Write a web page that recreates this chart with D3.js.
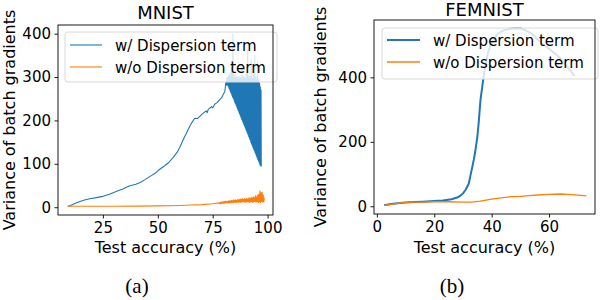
<!DOCTYPE html>
<html>
<head>
<meta charset="utf-8">
<script src="https://cdn.jsdelivr.net/npm/d3@7"></script>
<style>
  body { margin: 0; background: #fff; }
  svg { display: block; }
  text { font-family: "DejaVu Sans", sans-serif; fill: #000; }
</style>
</head>
<body>
<svg id="chart" width="600" height="300"></svg>
<script>
// ---------- DATA ----------
const seriesNames = ["w/ Dispersion term", "w/o Dispersion term"];

// MNIST, w/ Dispersion term
const mnistWithX = [9,10,12,14.5,17,19,22,25,28,31,34,37,40,42,44,46.5,49,51,53,55,57,59,60,62,64.5,65.5,66.8,68,69,70,71,72,72.5,73,73.6,74.5,75,76,77,78,79,80,80.5,
  81.00,81.16,81.32,81.48,81.64,81.80,81.96,82.12,82.28,82.44,82.60,82.76,82.92,83.08,83.24,83.40,83.56,83.72,83.88,84.04,
  84.20,84.36,84.52,84.68,84.84,85.00,85.16,85.32,85.48,85.64,85.80,85.96,86.12,86.28,86.44,86.60,86.76,86.92,87.08,87.24,
  87.40,87.56,87.72,87.88,88.04,88.20,88.36,88.52,88.68,88.84,89.00,89.16,89.32,89.48,89.64,89.80,89.96,90.12,90.28,90.44,
  90.60,90.76,90.92,91.08,91.24,91.40,91.56,91.72,91.88,92.04,92.20,92.36,92.52,92.68,92.84,93.00,93.16,93.32,93.48,93.64,
  93.80,93.96,94.12,94.28,94.44,94.60,94.76,94.92,95.08,95.24,95.40,95.56,95.72,95.88,96.04,96.20,96.36,96.52,96.68,96.84,97.00,97.10];
const mnistWithY = [2,3.5,8,13,17,19.5,22,25,30,36,42,49,53,57,63,71,79,88,95,103,115,128,138,160,186,195,205,204,209,214,218,222,218,226,228,232,229,238,241,247,252,262,266,
  288,282,295,281,300,282,297,278,305,274,302,270,310,266,298,262,320,258,300,254,
  400,251,305,247,296,242,305,239,299,235,302,231,296,227,300,223,294,219,302,215,
  297,211,300,207,295,203,330,199,298,195,302,191,294,187,300,183,296,179,310,175,
  298,171,362,167,300,163,295,159,302,155,296,150,340,146,298,142,293,138,305,134,
  297,130,350,126,295,122,300,118,290,114,335,110,288,106,295,102,285,98,277,95,270,94];

// MNIST, w/o Dispersion term
const mnistWithoutX = [9,20,30,40,50,60,65,70,75,78,
  78.25,78.5,78.75,79.0,79.25,79.5,79.75,80.0,80.25,80.5,80.75,81.0,81.25,81.5,81.75,82.0,82.25,82.5,82.75,83.0,
  83.25,83.5,83.75,84.0,84.25,84.5,84.75,85.0,85.25,85.5,85.75,86.0,86.25,86.5,86.75,87.0,87.25,87.5,87.75,88.0,
  88.25,88.5,88.75,89.0,89.25,89.5,89.75,90.0,90.25,90.5,90.75,91.0,91.25,91.5,91.75,92.0,92.25,92.5,92.75,93.0,
  93.25,93.5,93.75,94.0,94.25,94.5,94.75,95.0,95.25,95.5,95.75,96.0,96.25,96.5,96.75,97.0,97.25,97.5,97.75,98.0,98.25,98.5];
const mnistWithoutY = [2,2,2,2.5,3,4,5,6,8,10,
  8,11,8,12,9,12,9,13,9,13,10,14,10,13,10,14,10,15,10,14,
  11,16,10,15,11,17,11,16,11,17,11,16,12,18,11,17,12,19,11,18,
  12,20,12,18,12,20,11,19,12,21,12,19,12,22,11,20,12,23,12,21,
  11,24,12,22,13,26,12,24,12,28,11,30,12,38,11,33,13,35,12,28,12,22];

// FEMNIST, w/ Dispersion term
const femnistWithX = [2.5,5,8,10,13,16,20,23,26,28,29,30,31,32,32.6,33.2,33.8,34.4,35,35.5,36.1,36.7,37.2,38,38.8,39.6,41,42,44,46,48,50,52,54,57,60,63,66,68.9];
const femnistWithY = [3,7,10,12,13,14,16,18,22,27,32,40,52,70,95,120,146,177,215,262,330,370,404,445,480,500,520,535,545,550,552,552,545,535,509,488,467,437,404];

// FEMNIST, w/o Dispersion term
const femnistWithoutX = [2.5,5,9,12,16,20,25,30,33,36,40,44,47,50,53,56,60,64,68,71,73];
const femnistWithoutY = [3,6,11,13,13,14,14,13,13,16,22,27,30,31,33,35,37,38,36,34,32];

// tick values
const mnistXTicks = [25, 50, 75, 100];
const mnistYTicks = [0, 100, 200, 300, 400];
const femnistXTicks = [0, 20, 40, 60];
const femnistYTicks = [0, 200, 400];

const colors = ["#1f77b4", "#ff7f0e"];

// ---------- DRAW ----------
const svg = d3.select("#chart");

function panel(cfg) {
  const x = d3.scaleLinear().domain(cfg.xDomain).range([cfg.left, cfg.right]);
  const y = d3.scaleLinear().domain(cfg.yDomain).range([cfg.bottom, cfg.top]);
  const g = svg.append("g");

  const clipId = "clip" + cfg.id;
  svg.append("clipPath").attr("id", clipId).append("rect")
    .attr("x", cfg.left).attr("y", cfg.top)
    .attr("width", cfg.right - cfg.left).attr("height", cfg.bottom - cfg.top);

  const lines = g.append("g").attr("clip-path", `url(#${clipId})`);
  cfg.series.forEach((s, i) => {
    const pts = s.xs.map((v, k) => [v, s.ys[k]]);
    lines.append("path")
      .attr("d", d3.line().x(d => x(d[0])).y(d => y(d[1]))(pts))
      .attr("fill", "none")
      .attr("stroke", colors[i])
      .attr("stroke-width", s.width)
      .attr("stroke-linejoin", "round");
  });

  // legend
  const lg = g.append("g");
  lg.append("rect")
    .attr("x", cfg.legend.x).attr("y", cfg.legend.y)
    .attr("width", cfg.legend.w).attr("height", cfg.legend.h)
    .attr("rx", 3).attr("fill", "#fff").attr("fill-opacity", 0.8)
    .attr("stroke", "#d8d8d8").attr("stroke-width", 1);
  seriesNames.forEach((name, i) => {
    const ly = cfg.legend.rows[i];
    lg.append("line")
      .attr("x1", cfg.legend.lx1).attr("x2", cfg.legend.lx2)
      .attr("y1", ly).attr("y2", ly)
      .attr("stroke", colors[i]).attr("stroke-width", cfg.series[i].width);
    lg.append("text")
      .attr("x", cfg.legend.tx).attr("y", ly + 5.5)
      .attr("font-size", 15).text(name);
  });

  // axes
  const ax = g.append("g").attr("transform", `translate(0,${cfg.bottom})`)
    .call(d3.axisBottom(x).tickValues(cfg.xTicks).tickSize(3.5).tickPadding(3.5).tickFormat(d3.format("d")));
  const ay = g.append("g").attr("transform", `translate(${cfg.left},0)`)
    .call(d3.axisLeft(y).tickValues(cfg.yTicks).tickSize(3.5).tickPadding(3.5).tickFormat(d3.format("d")));
  [ax, ay].forEach(a => {
    a.select(".domain").remove();
    a.selectAll("text").attr("font-size", 15).attr("font-family", "DejaVu Sans, sans-serif").attr("fill", "#000");
    a.selectAll("line").attr("stroke", "#000").attr("stroke-width", 0.9);
  });

  // frame
  g.append("rect")
    .attr("x", cfg.left).attr("y", cfg.top)
    .attr("width", cfg.right - cfg.left).attr("height", cfg.bottom - cfg.top)
    .attr("fill", "none").attr("stroke", "#000").attr("stroke-width", 0.9);

  // title
  g.append("text").attr("x", (cfg.left + cfg.right) / 2).attr("y", cfg.titleY)
    .attr("text-anchor", "middle").attr("font-size", 18).text(cfg.title);
  // x label
  g.append("text").attr("x", (cfg.left + cfg.right) / 2).attr("y", 253)
    .attr("text-anchor", "middle").attr("font-size", 16).text("Test accuracy (%)");
  // y label
  g.append("text")
    .attr("transform", `translate(${cfg.ylabelX},${(cfg.top + cfg.bottom) / 2}) rotate(-90)`)
    .attr("text-anchor", "middle").attr("font-size", 16).text("Variance of batch gradients");
  // caption
  g.append("text").attr("x", cfg.captionX).attr("y", 293)
    .attr("text-anchor", "middle").attr("font-size", 21)
    .style("font-family", "'Liberation Serif', 'Times New Roman', serif")
    .text(cfg.caption);
}

panel({
  id: "a", title: "MNIST", caption: "(a)",
  left: 58, right: 273, top: 25, bottom: 215,
  xDomain: [4.55, 102.45], yDomain: [-18, 420],
  xTicks: mnistXTicks, yTicks: mnistYTicks,
  titleY: 19, ylabelX: 14.5, captionX: 137,
  series: [
    { xs: mnistWithX, ys: mnistWithY, width: 1.1 },
    { xs: mnistWithoutX, ys: mnistWithoutY, width: 1.1 }
  ],
  legend: { x: 65, y: 32, w: 212, h: 50, rows: [45, 67], lx1: 70, lx2: 102, tx: 115 }
});

panel({
  id: "b", title: "FEMNIST", caption: "(b)",
  left: 374, right: 595, top: 20, bottom: 214,
  xDomain: [-1, 76], yDomain: [-24, 578],
  xTicks: femnistXTicks, yTicks: femnistYTicks,
  titleY: 16, ylabelX: 326, captionX: 452,
  series: [
    { xs: femnistWithX, ys: femnistWithY, width: 2 },
    { xs: femnistWithoutX, ys: femnistWithoutY, width: 1.3 }
  ],
  legend: { x: 382, y: 28, w: 216, h: 51, rows: [40, 62], lx1: 387, lx2: 420, tx: 433 }
});
</script>
</body>
</html>
